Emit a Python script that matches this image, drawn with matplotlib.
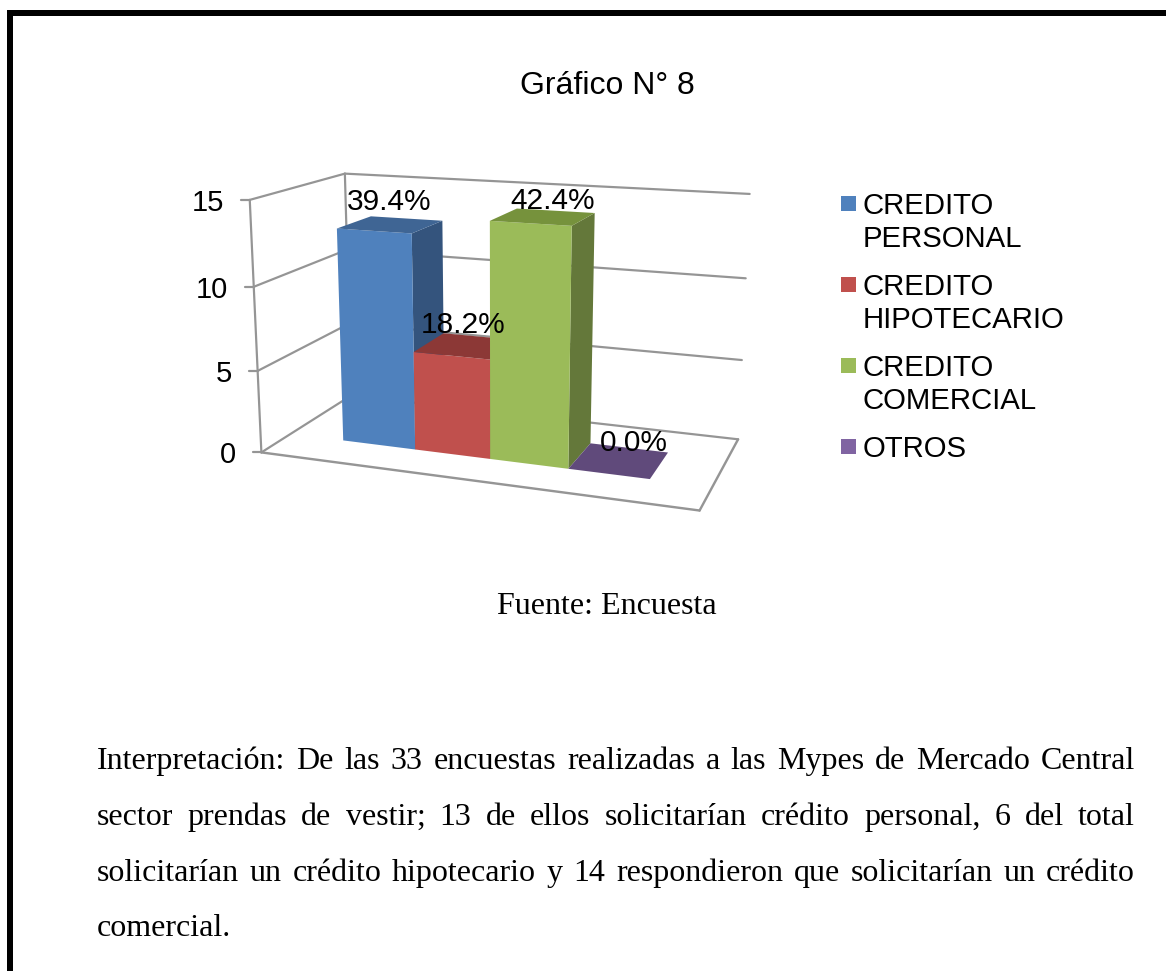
import numpy as np
import matplotlib
matplotlib.use("Agg")
import matplotlib.pyplot as plt
from matplotlib.patches import Polygon, Rectangle

# ---------- data ----------
categories = ["CREDITO\nPERSONAL", "CREDITO\nHIPOTECARIO", "CREDITO\nCOMERCIAL", "OTROS"]
values = [13, 6, 14, 0]
total = 33
axis_ticks = [0, 5, 10, 15]
title = "Gráfico N° 8"
source = "Fuente: Encuesta"
body_lines = [
    "Interpretación: De las 33 encuestas realizadas a las Mypes de Mercado Central",
    "sector prendas de vestir; 13 de ellos solicitarían crédito personal, 6 del total",
    "solicitarían un crédito hipotecario y 14 respondieron que solicitarían un crédito",
    "comercial.",
]

# ---------- style ----------
front = ["#4F81BD", "#C0504D", "#9BBB59", "#8064A2"]
side = ["#34547D", "#8C3836", "#64783A", "#604A7B"]
top = ["#3F6594", "#8C3836", "#76923C", "#604A7B"]
grid_col = "#959595"
SANS = "Liberation Sans"
SERIF = "Liberation Serif"
PT = 0.72  # px -> pt at dpi 100

# ---------- perspective scale: (category, depth, value) -> pixel ----------
calib = [
    ((0, 0, 0), (343.3, 440.7)), ((0, 0, 13), (336.7, 228.3)), ((1, 0, 0), (415, 449.3)),
    ((1, 0, 13), (411.7, 233.3)), ((0, 1, 13), (371.7, 216)), ((1, 1, 13), (442.7, 220.7)),
    ((1, 0, 6), (414, 352.3)), ((2, 0, 6), (490, 360)), ((2, 0, 0), (490, 459)),
    ((1, 1, 6), (443, 333)), ((2, 0, 14), (490, 221)), ((3, 0, 14), (571.7, 225.7)),
    ((3, 0, 0), (568.3, 468.3)), ((2, 1, 14), (515, 208.7)), ((3, 1, 14), (595.7, 213.3)),
    ((3, 1, 0), (590.7, 444)), ((4, 0, 0), (650, 479)), ((4, 1, 0), (668, 452)),
]
rows = []
for (X, Y, Z), (u, v) in calib:
    u, v = u / 1000, v / 1000
    w = [X, Y, Z / 15, 1]
    rows.append(w + [0, 0, 0, 0] + [-u * c for c in w])
    rows.append([0, 0, 0, 0] + w + [-v * c for c in w])
CAM = np.linalg.svd(np.array(rows, float))[2][-1].reshape(3, 4)


def project(x, y, z):
    h = CAM @ np.array([x, y, z / 15, 1.0])
    return h[0] / h[2] * 1000, h[1] / h[2] * 1000


def floor_world(u, v):
    H = CAM[:, [0, 1, 3]]
    r = np.linalg.solve(H, np.array([u / 1000, v / 1000, 1.0]))
    return r[0] / r[2], r[1] / r[2]


# Extent of the chart box on the floor
bx0, by0 = floor_world(262, 452)
bx1, by0b = floor_world(699, 511)
bx0b, by1 = floor_world(352, 395)
bx1b, by1b = floor_world(738, 440)
by0 = (by0 + by0b) / 2
by1 = (by1 + by1b) / 2
bx0 = (bx0 + bx0b) / 2
bx1 = (bx1 + bx1b) / 2

fig = plt.figure(figsize=(11.66, 9.71), dpi=100, facecolor="white")
ax = fig.add_axes([0, 0, 1, 1])
ax.set_xlim(0, 1166)
ax.set_ylim(971, 0)
ax.axis("off")

# Page frame
ax.plot([10, 10, 1166], [971, 13, 13], color="black", lw=6 * PT,
        solid_joinstyle="miter", solid_capstyle="butt")


def seg(a, b, lw=2.2):
    ax.plot([a[0], b[0]], [a[1], b[1]], color=grid_col, lw=lw * PT,
            solid_capstyle="round", zorder=1)


# Walls, floor, gridlines
for t in axis_ticks:
    a = project(bx0, by0, t)
    b = project(bx0, by1, t)
    c = project(bx1, by1, t)
    seg(a, b)
    seg(b, c)
    seg((a[0] - 8.5, a[1]), a)
    ax.text(a[0] - 25.5, a[1], str(t), ha="right", va="center_baseline",
            family=SANS, fontsize=21, color="black", zorder=6)
seg(project(bx0, by0, 0), project(bx0, by0, 15))
seg(project(bx0, by1, 0), project(bx0, by1, 15))
seg(project(bx0, by0, 0), project(bx1, by0, 0), 2.4)
seg(project(bx1, by0, 0), project(bx1, by1, 0), 2.4)

# Bars
for i, val in enumerate(values):
    x0, x1 = i, i + 1
    if val > 0:
        ax.add_patch(Polygon([project(x1, 0, 0), project(x1, 1, 0), project(x1, 1, val), project(x1, 0, val)],
                             closed=True, fc=side[i], ec="none", zorder=2 + i))
        ax.add_patch(Polygon([project(x0, 0, 0), project(x1, 0, 0), project(x1, 0, val), project(x0, 0, val)],
                             closed=True, fc=front[i], ec="none", zorder=2 + i))
    ax.add_patch(Polygon([project(x0, 0, val), project(x1, 0, val), project(x1, 1, val), project(x0, 1, val)],
                         closed=True, fc=top[i], ec="none", zorder=2 + i))

# Data labels
label_shift = [(-1, -23), (-3, -21), (9, -16), (15, -18)]
for i, val in enumerate(values):
    cs = [project(x, y, val) for x in (i, i + 1) for y in (0, 1)]
    cx = np.mean([p[0] for p in cs]) + label_shift[i][0]
    cy = np.mean([p[1] for p in cs]) + label_shift[i][1]
    ax.text(cx, cy, f"{val / total * 100:.1f}%", ha="center", va="center",
            family=SANS, fontsize=21.5, color="black", zorder=8)

# Legend
legend_y = [204, 285, 366, 447]
for name, col, y in zip(categories, front, legend_y):
    ax.add_patch(Rectangle((841, y - 7.5), 15, 15, fc=col, ec="none"))
    ax.text(863, y - 12, name, ha="left", va="top", family=SANS,
            fontsize=21.2, color="black", linespacing=1.22)

# Titles
ax.text(607, 94, title, ha="center", va="baseline", family=SANS, fontsize=23, color="black")
ax.text(607, 614, source, ha="center", va="baseline", family=SERIF, fontsize=23, color="black")

# Justified paragraph
renderer = fig.canvas.get_renderer()
left, right = 97, 1135
baselines = [769, 825, 881, 936]
for k, (line, by) in enumerate(zip(body_lines, baselines)):
    words = line.split(" ")
    items = [ax.text(0, by, w, ha="left", va="baseline", family=SERIF, fontsize=23, color="black")
             for w in words]
    widths = [t.get_window_extent(renderer).width for t in items]
    if k < len(body_lines) - 1:
        gap = (right - left - sum(widths)) / (len(words) - 1)
    else:
        gap = 8
    x = left
    for t, w in zip(items, widths):
        t.set_x(x)
        x += w + gap

fig.savefig("out.png", dpi=100, facecolor="white")
